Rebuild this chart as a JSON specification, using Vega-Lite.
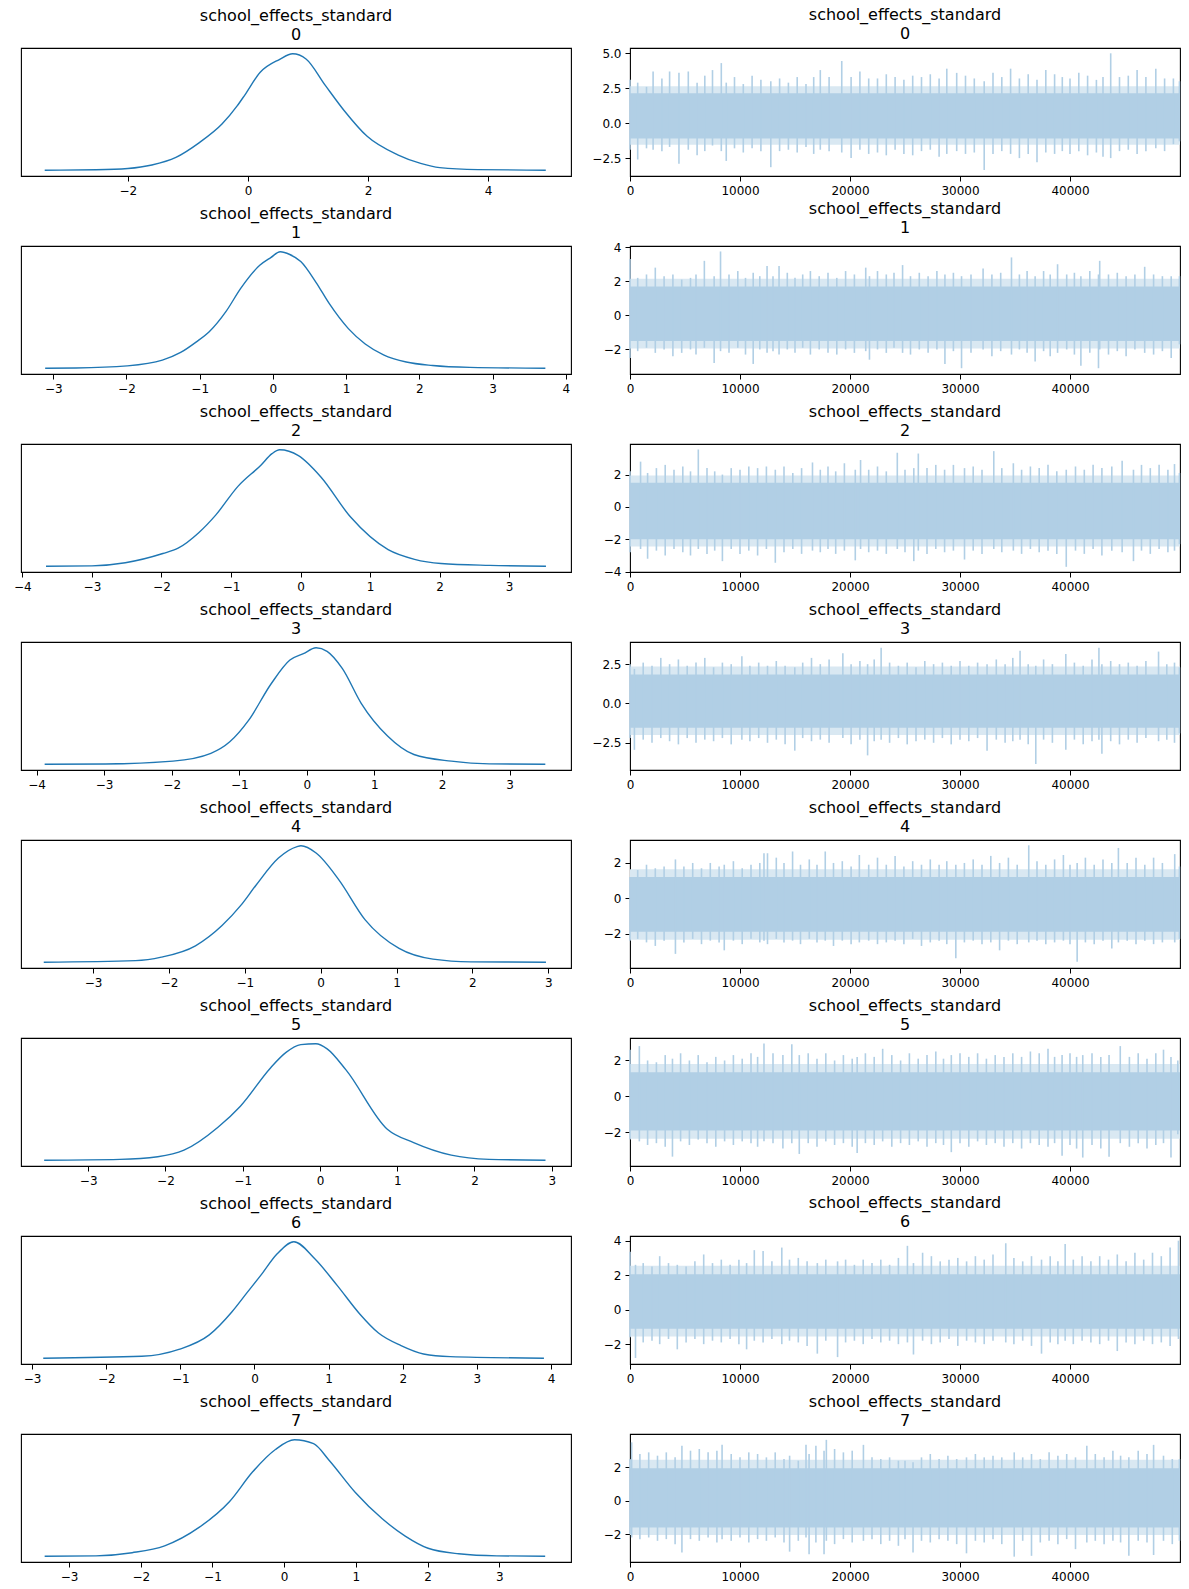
{
"$schema":"https://vega.github.io/schema/vega-lite/v6.json",
"padding":{"left":12,"top":6,"right":2,"bottom":2},
"background":"white",
"bounds":"flush",
"columns":2,
"spacing":{"row":70,"column":59},
"config":{
 "font":"DejaVu Sans",
 "view":{"stroke":"black","strokeWidth":1.1},
 "axis":{"grid":false,"domain":false,"tickColor":"black","tickSize":5,"tickWidth":1,"labelColor":"black","labelFontSize":12,"labelFont":"DejaVu Sans","labelPadding":4,"labelFlush":false,"labelOverlap":false},
 "title":{"fontSize":16,"fontWeight":"normal","color":"black","font":"DejaVu Sans","offset":5,"lineHeight":19,"anchor":"middle"}
},
"datasets":{
"kde":[
{"r":0,"x":-3.385,"d":0},{"r":0,"x":-2.53,"d":0.004},{"r":0,"x":-2.0,"d":0.015},{"r":0,"x":-1.6,"d":0.045},{"r":0,"x":-1.2,"d":0.11},{"r":0,"x":-0.815,"d":0.235},{"r":0,"x":-0.433,"d":0.396},{"r":0,"x":-0.18,"d":0.552},{"r":0,"x":-0.05,"d":0.648},{"r":0,"x":0.204,"d":0.841},{"r":0,"x":0.522,"d":0.951},{"r":0,"x":0.745,"d":1.0},{"r":0,"x":0.967,"d":0.956},{"r":0,"x":1.285,"d":0.731},{"r":0,"x":1.604,"d":0.511},{"r":0,"x":1.985,"d":0.291},{"r":0,"x":2.494,"d":0.132},{"r":0,"x":2.876,"d":0.058},{"r":0,"x":3.194,"d":0.022},{"r":0,"x":3.83,"d":0.005},{"r":0,"x":4.96,"d":0},
{"r":1,"x":-3.11,"d":0},{"r":1,"x":-2.69,"d":0.002},{"r":1,"x":-1.99,"d":0.02},{"r":1,"x":-1.51,"d":0.069},{"r":1,"x":-1.26,"d":0.135},{"r":1,"x":-1.05,"d":0.224},{"r":1,"x":-0.87,"d":0.313},{"r":1,"x":-0.64,"d":0.488},{"r":1,"x":-0.44,"d":0.686},{"r":1,"x":-0.18,"d":0.884},{"r":1,"x":-0.03,"d":0.95},{"r":1,"x":0.1,"d":1.0},{"r":1,"x":0.23,"d":0.977},{"r":1,"x":0.38,"d":0.917},{"r":1,"x":0.59,"d":0.736},{"r":1,"x":0.77,"d":0.554},{"r":1,"x":1.03,"d":0.34},{"r":1,"x":1.26,"d":0.208},{"r":1,"x":1.51,"d":0.115},{"r":1,"x":1.82,"d":0.053},{"r":1,"x":2.18,"d":0.023},{"r":1,"x":2.69,"d":0.007},{"r":1,"x":3.72,"d":0},
{"r":2,"x":-3.66,"d":0},{"r":2,"x":-3.0,"d":0.003},{"r":2,"x":-2.52,"d":0.03},{"r":2,"x":-1.98,"d":0.109},{"r":2,"x":-1.76,"d":0.155},{"r":2,"x":-1.46,"d":0.29},{"r":2,"x":-1.22,"d":0.439},{"r":2,"x":-0.9,"d":0.686},{"r":2,"x":-0.57,"d":0.868},{"r":2,"x":-0.41,"d":0.967},{"r":2,"x":-0.3,"d":1.0},{"r":2,"x":-0.03,"d":0.95},{"r":2,"x":0.29,"d":0.769},{"r":2,"x":0.72,"d":0.422},{"r":2,"x":1.26,"d":0.142},{"r":2,"x":1.64,"d":0.059},{"r":2,"x":2.02,"d":0.023},{"r":2,"x":2.72,"d":0.007},{"r":2,"x":3.53,"d":0},
{"r":3,"x":-3.88,"d":0},{"r":3,"x":-2.98,"d":0.002},{"r":3,"x":-1.98,"d":0.026},{"r":3,"x":-1.42,"d":0.093},{"r":3,"x":-1.14,"d":0.192},{"r":3,"x":-0.865,"d":0.374},{"r":3,"x":-0.53,"d":0.689},{"r":3,"x":-0.25,"d":0.895},{"r":3,"x":-0.05,"d":0.95},{"r":3,"x":0.137,"d":1.0},{"r":3,"x":0.3,"d":0.97},{"r":3,"x":0.527,"d":0.821},{"r":3,"x":0.805,"d":0.523},{"r":3,"x":1.195,"d":0.242},{"r":3,"x":1.585,"d":0.083},{"r":3,"x":2.14,"d":0.026},{"r":3,"x":2.7,"d":0.003},{"r":3,"x":3.53,"d":0},
{"r":4,"x":-3.65,"d":0},{"r":4,"x":-2.44,"d":0.013},{"r":4,"x":-2.1,"d":0.043},{"r":4,"x":-1.65,"d":0.141},{"r":4,"x":-1.3,"d":0.315},{"r":4,"x":-1.05,"d":0.49},{"r":4,"x":-0.855,"d":0.659},{"r":4,"x":-0.556,"d":0.895},{"r":4,"x":-0.31,"d":0.993},{"r":4,"x":-0.26,"d":1.0},{"r":4,"x":-0.06,"d":0.938},{"r":4,"x":0.24,"d":0.708},{"r":4,"x":0.587,"d":0.364},{"r":4,"x":1.034,"d":0.118},{"r":4,"x":1.48,"d":0.026},{"r":4,"x":1.978,"d":0.003},{"r":4,"x":2.97,"d":0},
{"r":5,"x":-3.57,"d":0},{"r":5,"x":-2.59,"d":0.007},{"r":5,"x":-2.1,"d":0.03},{"r":5,"x":-1.76,"d":0.086},{"r":5,"x":-1.32,"d":0.283},{"r":5,"x":-1.03,"d":0.464},{"r":5,"x":-0.64,"d":0.793},{"r":5,"x":-0.443,"d":0.924},{"r":5,"x":-0.248,"d":0.993},{"r":5,"x":-0.053,"d":1.0},{"r":5,"x":0.093,"d":0.957},{"r":5,"x":0.337,"d":0.776},{"r":5,"x":0.872,"d":0.266},{"r":5,"x":1.213,"d":0.151},{"r":5,"x":1.7,"d":0.043},{"r":5,"x":2.19,"d":0.007},{"r":5,"x":2.92,"d":0},
{"r":6,"x":-2.85,"d":0},{"r":6,"x":-1.52,"d":0.016},{"r":6,"x":-1.02,"d":0.075},{"r":6,"x":-0.61,"d":0.2},{"r":6,"x":-0.306,"d":0.397},{"r":6,"x":-0.103,"d":0.561},{"r":6,"x":0.1,"d":0.725},{"r":6,"x":0.303,"d":0.895},{"r":6,"x":0.531,"d":1.0},{"r":6,"x":0.81,"d":0.856},{"r":6,"x":1.115,"d":0.626},{"r":6,"x":1.42,"d":0.38},{"r":6,"x":1.673,"d":0.216},{"r":6,"x":1.977,"d":0.108},{"r":6,"x":2.28,"d":0.036},{"r":6,"x":2.64,"d":0.013},{"r":6,"x":3.905,"d":0},
{"r":7,"x":-3.34,"d":0},{"r":7,"x":-2.625,"d":0.003},{"r":7,"x":-2.12,"d":0.03},{"r":7,"x":-1.667,"d":0.089},{"r":7,"x":-1.187,"d":0.247},{"r":7,"x":-0.761,"d":0.47},{"r":7,"x":-0.442,"d":0.723},{"r":7,"x":-0.122,"d":0.917},{"r":7,"x":0.144,"d":1.0},{"r":7,"x":0.41,"d":0.967},{"r":7,"x":0.623,"d":0.827},{"r":7,"x":0.996,"d":0.545},{"r":7,"x":1.368,"d":0.321},{"r":7,"x":1.688,"d":0.173},{"r":7,"x":2.007,"d":0.068},{"r":7,"x":2.433,"d":0.021},{"r":7,"x":2.966,"d":0.003},{"r":7,"x":3.64,"d":0}
],
"core":[
{"r":0,"a":0,"b":49999,"lo":-1.1,"hi":2.15,"flo":-1.55,"fhi":2.65},
{"r":1,"a":0,"b":49999,"lo":-1.5,"hi":1.7,"flo":-1.95,"fhi":2.15},
{"r":2,"a":0,"b":49999,"lo":-2.0,"hi":1.5,"flo":-2.45,"fhi":1.95},
{"r":3,"a":0,"b":49999,"lo":-1.55,"hi":1.85,"flo":-2.0,"fhi":2.35},
{"r":4,"a":0,"b":49999,"lo":-1.9,"hi":1.2,"flo":-2.35,"fhi":1.65},
{"r":5,"a":0,"b":49999,"lo":-1.9,"hi":1.35,"flo":-2.35,"fhi":1.8},
{"r":6,"a":0,"b":49999,"lo":-1.1,"hi":2.05,"flo":-1.55,"fhi":2.55},
{"r":7,"a":0,"b":49999,"lo":-1.6,"hi":1.95,"flo":-2.05,"fhi":2.45}
],
"trace":[
{"r":0,"i":0,"hi":3.1,"lo":-1.9},{"r":0,"i":700,"hi":2.9,"lo":-2.6},{"r":0,"i":1500,"hi":2.6,"lo":-1.8},{"r":0,"i":2100,"hi":3.7,"lo":-1.9},{"r":0,"i":2900,"hi":3.2,"lo":-2.0},{"r":0,"i":3600,"hi":3.7,"lo":-1.7},{"r":0,"i":4450,"hi":3.6,"lo":-2.9},{"r":0,"i":5300,"hi":3.7,"lo":-1.9},{"r":0,"i":6100,"hi":2.9,"lo":-2.3},{"r":0,"i":6800,"hi":3.4,"lo":-2.0},{"r":0,"i":7500,"hi":3.8,"lo":-1.6},{"r":0,"i":8300,"hi":4.3,"lo":-2.0},{"r":0,"i":8750,"hi":2.9,"lo":-2.7},{"r":0,"i":9500,"hi":3.3,"lo":-1.8},{"r":0,"i":10300,"hi":2.8,"lo":-2.1},{"r":0,"i":11100,"hi":3.4,"lo":-1.8},{"r":0,"i":11900,"hi":3.1,"lo":-2.0},{"r":0,"i":12800,"hi":3.0,"lo":-3.15},{"r":0,"i":13600,"hi":3.2,"lo":-2.0},{"r":0,"i":14400,"hi":2.9,"lo":-1.9},{"r":0,"i":15200,"hi":3.3,"lo":-2.1},{"r":0,"i":16000,"hi":2.8,"lo":-1.7},{"r":0,"i":16700,"hi":3.3,"lo":-2.2},{"r":0,"i":17300,"hi":3.8,"lo":-1.9},{"r":0,"i":18100,"hi":3.3,"lo":-2.0},{"r":0,"i":19250,"hi":4.45,"lo":-2.1},{"r":0,"i":20100,"hi":3.3,"lo":-2.5},{"r":0,"i":20900,"hi":3.7,"lo":-1.9},{"r":0,"i":21700,"hi":3.2,"lo":-2.2},{"r":0,"i":22500,"hi":3.2,"lo":-2.1},{"r":0,"i":23300,"hi":3.5,"lo":-2.3},{"r":0,"i":24100,"hi":3.3,"lo":-1.9},{"r":0,"i":24900,"hi":3.1,"lo":-2.2},{"r":0,"i":25700,"hi":3.4,"lo":-2.3},{"r":0,"i":26500,"hi":3.3,"lo":-2.0},{"r":0,"i":27300,"hi":3.5,"lo":-1.9},{"r":0,"i":28100,"hi":3.2,"lo":-2.4},{"r":0,"i":28800,"hi":3.9,"lo":-2.2},{"r":0,"i":29700,"hi":3.6,"lo":-2.0},{"r":0,"i":30500,"hi":3.4,"lo":-2.2},{"r":0,"i":31300,"hi":3.2,"lo":-2.1},{"r":0,"i":32200,"hi":3.0,"lo":-3.35},{"r":0,"i":33000,"hi":3.6,"lo":-2.2},{"r":0,"i":33800,"hi":3.3,"lo":-2.0},{"r":0,"i":34600,"hi":3.9,"lo":-2.2},{"r":0,"i":35400,"hi":3.2,"lo":-2.5},{"r":0,"i":36200,"hi":3.5,"lo":-2.2},{"r":0,"i":37000,"hi":3.1,"lo":-2.8},{"r":0,"i":37800,"hi":3.8,"lo":-2.1},{"r":0,"i":38600,"hi":3.5,"lo":-2.2},{"r":0,"i":39300,"hi":3.3,"lo":-2.0},{"r":0,"i":40000,"hi":3.2,"lo":-2.2},{"r":0,"i":40800,"hi":3.6,"lo":-2.0},{"r":0,"i":41600,"hi":3.4,"lo":-2.3},{"r":0,"i":42400,"hi":3.1,"lo":-2.1},{"r":0,"i":43000,"hi":3.3,"lo":-2.4},{"r":0,"i":43700,"hi":5.0,"lo":-2.5},{"r":0,"i":44500,"hi":3.3,"lo":-2.0},{"r":0,"i":45300,"hi":3.4,"lo":-1.9},{"r":0,"i":46100,"hi":3.8,"lo":-2.2},{"r":0,"i":46900,"hi":3.3,"lo":-2.0},{"r":0,"i":47800,"hi":3.9,"lo":-1.8},{"r":0,"i":48600,"hi":3.2,"lo":-2.0},{"r":0,"i":49400,"hi":3.2,"lo":-1.5},{"r":0,"i":49950,"hi":3.0,"lo":-1.3},
{"r":1,"i":0,"hi":3.3,"lo":-2.5},{"r":1,"i":700,"hi":2.2,"lo":-2.1},{"r":1,"i":1500,"hi":2.4,"lo":-1.9},{"r":1,"i":2300,"hi":2.8,"lo":-2.2},{"r":1,"i":3100,"hi":2.3,"lo":-2.0},{"r":1,"i":3900,"hi":2.4,"lo":-2.4},{"r":1,"i":4700,"hi":2.1,"lo":-2.2},{"r":1,"i":5500,"hi":2.2,"lo":-2.0},{"r":1,"i":6000,"hi":2.4,"lo":-2.3},{"r":1,"i":6760,"hi":3.2,"lo":-1.9},{"r":1,"i":7650,"hi":2.3,"lo":-2.8},{"r":1,"i":8230,"hi":3.75,"lo":-2.1},{"r":1,"i":9000,"hi":2.4,"lo":-2.2},{"r":1,"i":9800,"hi":2.6,"lo":-1.9},{"r":1,"i":10500,"hi":2.2,"lo":-2.3},{"r":1,"i":11200,"hi":2.5,"lo":-2.85},{"r":1,"i":11800,"hi":2.3,"lo":-2.0},{"r":1,"i":12460,"hi":2.9,"lo":-2.2},{"r":1,"i":13000,"hi":2.3,"lo":-2.1},{"r":1,"i":13550,"hi":2.9,"lo":-2.3},{"r":1,"i":14300,"hi":2.5,"lo":-2.0},{"r":1,"i":15000,"hi":2.2,"lo":-2.2},{"r":1,"i":15700,"hi":2.4,"lo":-1.9},{"r":1,"i":16400,"hi":2.6,"lo":-2.3},{"r":1,"i":17200,"hi":2.3,"lo":-2.0},{"r":1,"i":18000,"hi":2.5,"lo":-2.2},{"r":1,"i":18800,"hi":2.2,"lo":-2.3},{"r":1,"i":19600,"hi":2.6,"lo":-2.0},{"r":1,"i":20400,"hi":2.4,"lo":-2.2},{"r":1,"i":21430,"hi":2.8,"lo":-2.1},{"r":1,"i":21770,"hi":2.3,"lo":-2.6},{"r":1,"i":22500,"hi":2.6,"lo":-2.0},{"r":1,"i":23300,"hi":2.4,"lo":-2.2},{"r":1,"i":24000,"hi":2.5,"lo":-1.9},{"r":1,"i":24780,"hi":2.95,"lo":-2.2},{"r":1,"i":25500,"hi":2.3,"lo":-2.3},{"r":1,"i":26300,"hi":2.5,"lo":-2.0},{"r":1,"i":27100,"hi":2.3,"lo":-2.2},{"r":1,"i":27900,"hi":2.6,"lo":-2.0},{"r":1,"i":28630,"hi":2.4,"lo":-2.85},{"r":1,"i":29400,"hi":2.5,"lo":-2.1},{"r":1,"i":30140,"hi":2.3,"lo":-3.1},{"r":1,"i":31000,"hi":2.4,"lo":-2.2},{"r":1,"i":32100,"hi":2.75,"lo":-2.0},{"r":1,"i":32900,"hi":2.4,"lo":-2.4},{"r":1,"i":33700,"hi":2.5,"lo":-2.1},{"r":1,"i":34680,"hi":3.4,"lo":-2.3},{"r":1,"i":35400,"hi":2.4,"lo":-2.0},{"r":1,"i":36100,"hi":2.6,"lo":-2.2},{"r":1,"i":36830,"hi":2.3,"lo":-2.7},{"r":1,"i":37600,"hi":2.6,"lo":-2.1},{"r":1,"i":38200,"hi":2.4,"lo":-2.4},{"r":1,"i":38870,"hi":3.0,"lo":-2.2},{"r":1,"i":39700,"hi":2.4,"lo":-2.0},{"r":1,"i":40400,"hi":2.5,"lo":-2.3},{"r":1,"i":40990,"hi":2.3,"lo":-2.95},{"r":1,"i":41800,"hi":2.6,"lo":-2.2},{"r":1,"i":42590,"hi":2.4,"lo":-3.1},{"r":1,"i":42700,"hi":3.2,"lo":-2.0},{"r":1,"i":43500,"hi":2.4,"lo":-2.3},{"r":1,"i":44300,"hi":2.5,"lo":-2.1},{"r":1,"i":45100,"hi":2.3,"lo":-2.4},{"r":1,"i":45900,"hi":2.4,"lo":-2.0},{"r":1,"i":46790,"hi":2.85,"lo":-2.2},{"r":1,"i":47600,"hi":2.4,"lo":-2.3},{"r":1,"i":48400,"hi":2.3,"lo":-2.1},{"r":1,"i":49200,"hi":2.3,"lo":-2.5},{"r":1,"i":49950,"hi":2.3,"lo":-1.7},
{"r":2,"i":0,"hi":2.2,"lo":-2.8},{"r":2,"i":960,"hi":2.8,"lo":-2.6},{"r":2,"i":1600,"hi":2.1,"lo":-3.2},{"r":2,"i":2400,"hi":2.4,"lo":-2.7},{"r":2,"i":3200,"hi":2.6,"lo":-3.0},{"r":2,"i":4000,"hi":2.3,"lo":-2.6},{"r":2,"i":4800,"hi":2.5,"lo":-2.8},{"r":2,"i":5500,"hi":2.2,"lo":-3.0},{"r":2,"i":6210,"hi":3.55,"lo":-2.6},{"r":2,"i":7000,"hi":2.4,"lo":-2.9},{"r":2,"i":7700,"hi":2.2,"lo":-2.7},{"r":2,"i":8400,"hi":2.0,"lo":-3.35},{"r":2,"i":9200,"hi":2.4,"lo":-2.6},{"r":2,"i":10000,"hi":2.3,"lo":-2.9},{"r":2,"i":10800,"hi":2.5,"lo":-2.7},{"r":2,"i":11600,"hi":2.4,"lo":-3.0},{"r":2,"i":12400,"hi":2.5,"lo":-2.6},{"r":2,"i":13210,"hi":2.3,"lo":-3.45},{"r":2,"i":14000,"hi":2.5,"lo":-2.8},{"r":2,"i":14800,"hi":2.1,"lo":-2.6},{"r":2,"i":15600,"hi":2.4,"lo":-2.9},{"r":2,"i":16590,"hi":2.75,"lo":-2.7},{"r":2,"i":17300,"hi":2.3,"lo":-2.8},{"r":2,"i":18000,"hi":2.5,"lo":-2.6},{"r":2,"i":18700,"hi":2.2,"lo":-2.9},{"r":2,"i":19490,"hi":2.7,"lo":-2.7},{"r":2,"i":20480,"hi":2.3,"lo":-3.3},{"r":2,"i":20960,"hi":2.9,"lo":-2.6},{"r":2,"i":21700,"hi":2.3,"lo":-2.8},{"r":2,"i":22500,"hi":2.5,"lo":-2.7},{"r":2,"i":23300,"hi":2.2,"lo":-2.9},{"r":2,"i":24300,"hi":3.35,"lo":-2.6},{"r":2,"i":25000,"hi":2.3,"lo":-2.8},{"r":2,"i":25800,"hi":2.4,"lo":-3.35},{"r":2,"i":26210,"hi":3.3,"lo":-2.7},{"r":2,"i":27000,"hi":2.4,"lo":-2.9},{"r":2,"i":27800,"hi":2.6,"lo":-2.6},{"r":2,"i":28600,"hi":2.3,"lo":-2.8},{"r":2,"i":29400,"hi":2.6,"lo":-2.7},{"r":2,"i":30410,"hi":2.4,"lo":-3.25},{"r":2,"i":31200,"hi":2.5,"lo":-2.7},{"r":2,"i":32000,"hi":2.3,"lo":-2.9},{"r":2,"i":33070,"hi":3.45,"lo":-2.6},{"r":2,"i":33800,"hi":2.4,"lo":-2.8},{"r":2,"i":34850,"hi":2.7,"lo":-2.7},{"r":2,"i":35600,"hi":2.3,"lo":-2.9},{"r":2,"i":36400,"hi":2.5,"lo":-2.6},{"r":2,"i":37200,"hi":2.4,"lo":-2.8},{"r":2,"i":38000,"hi":2.6,"lo":-2.7},{"r":2,"i":38800,"hi":2.2,"lo":-2.9},{"r":2,"i":39660,"hi":2.3,"lo":-3.7},{"r":2,"i":40500,"hi":2.5,"lo":-2.7},{"r":2,"i":41300,"hi":2.3,"lo":-2.9},{"r":2,"i":42100,"hi":2.6,"lo":-2.6},{"r":2,"i":42900,"hi":2.4,"lo":-3.0},{"r":2,"i":43800,"hi":2.5,"lo":-2.7},{"r":2,"i":44740,"hi":2.85,"lo":-2.8},{"r":2,"i":45770,"hi":2.3,"lo":-3.35},{"r":2,"i":46500,"hi":2.6,"lo":-2.7},{"r":2,"i":47300,"hi":2.4,"lo":-2.9},{"r":2,"i":48100,"hi":2.6,"lo":-2.6},{"r":2,"i":48900,"hi":2.3,"lo":-2.8},{"r":2,"i":49500,"hi":2.65,"lo":-2.7},{"r":2,"i":49950,"hi":2.1,"lo":-2.3},
{"r":3,"i":0,"hi":2.5,"lo":-2.2},{"r":3,"i":400,"hi":2.2,"lo":-2.95},{"r":3,"i":1200,"hi":2.6,"lo":-2.3},{"r":3,"i":2000,"hi":2.4,"lo":-2.5},{"r":3,"i":2800,"hi":2.9,"lo":-2.2},{"r":3,"i":3600,"hi":2.5,"lo":-2.4},{"r":3,"i":4400,"hi":2.8,"lo":-2.6},{"r":3,"i":5200,"hi":2.4,"lo":-2.2},{"r":3,"i":6000,"hi":2.6,"lo":-2.5},{"r":3,"i":6800,"hi":2.9,"lo":-2.3},{"r":3,"i":7600,"hi":2.3,"lo":-2.4},{"r":3,"i":8400,"hi":2.6,"lo":-2.2},{"r":3,"i":9200,"hi":2.5,"lo":-2.6},{"r":3,"i":10170,"hi":3.0,"lo":-2.3},{"r":3,"i":10900,"hi":2.4,"lo":-2.4},{"r":3,"i":11700,"hi":2.6,"lo":-2.2},{"r":3,"i":12500,"hi":2.4,"lo":-2.5},{"r":3,"i":13300,"hi":2.7,"lo":-2.3},{"r":3,"i":14100,"hi":2.4,"lo":-2.6},{"r":3,"i":14980,"hi":2.3,"lo":-3.0},{"r":3,"i":15700,"hi":2.6,"lo":-2.2},{"r":3,"i":16500,"hi":2.9,"lo":-2.4},{"r":3,"i":17300,"hi":2.5,"lo":-2.3},{"r":3,"i":18100,"hi":2.8,"lo":-2.5},{"r":3,"i":19350,"hi":3.2,"lo":-2.2},{"r":3,"i":20100,"hi":2.5,"lo":-2.6},{"r":3,"i":20900,"hi":2.7,"lo":-2.3},{"r":3,"i":21600,"hi":2.5,"lo":-3.3},{"r":3,"i":22200,"hi":2.8,"lo":-2.4},{"r":3,"i":22830,"hi":3.55,"lo":-2.3},{"r":3,"i":23600,"hi":2.6,"lo":-2.5},{"r":3,"i":24400,"hi":2.4,"lo":-2.2},{"r":3,"i":25200,"hi":2.6,"lo":-2.6},{"r":3,"i":26000,"hi":2.3,"lo":-2.4},{"r":3,"i":26800,"hi":2.7,"lo":-2.3},{"r":3,"i":27600,"hi":2.5,"lo":-2.5},{"r":3,"i":28400,"hi":2.6,"lo":-2.2},{"r":3,"i":29200,"hi":2.4,"lo":-2.6},{"r":3,"i":30000,"hi":2.7,"lo":-2.3},{"r":3,"i":30800,"hi":2.4,"lo":-2.4},{"r":3,"i":31600,"hi":2.6,"lo":-2.2},{"r":3,"i":32460,"hi":2.5,"lo":-3.0},{"r":3,"i":33300,"hi":2.8,"lo":-2.3},{"r":3,"i":34100,"hi":2.5,"lo":-2.5},{"r":3,"i":34800,"hi":2.9,"lo":-2.4},{"r":3,"i":35460,"hi":3.35,"lo":-2.3},{"r":3,"i":36200,"hi":2.5,"lo":-2.6},{"r":3,"i":36890,"hi":2.4,"lo":-3.85},{"r":3,"i":37600,"hi":2.8,"lo":-2.3},{"r":3,"i":38400,"hi":2.5,"lo":-2.5},{"r":3,"i":39620,"hi":3.15,"lo":-2.95},{"r":3,"i":40400,"hi":2.6,"lo":-2.3},{"r":3,"i":41200,"hi":2.4,"lo":-2.6},{"r":3,"i":42000,"hi":2.8,"lo":-2.4},{"r":3,"i":42630,"hi":3.55,"lo":-2.3},{"r":3,"i":42900,"hi":2.5,"lo":-3.2},{"r":3,"i":43700,"hi":2.7,"lo":-2.4},{"r":3,"i":44500,"hi":2.5,"lo":-2.6},{"r":3,"i":45300,"hi":2.6,"lo":-2.3},{"r":3,"i":46100,"hi":2.4,"lo":-2.5},{"r":3,"i":46900,"hi":2.7,"lo":-2.2},{"r":3,"i":48050,"hi":3.3,"lo":-2.4},{"r":3,"i":48800,"hi":2.5,"lo":-2.3},{"r":3,"i":49500,"hi":2.6,"lo":-2.5},{"r":3,"i":49950,"hi":2.3,"lo":-1.9},
{"r":4,"i":0,"hi":1.2,"lo":-2.4},{"r":4,"i":700,"hi":1.6,"lo":-2.3},{"r":4,"i":1500,"hi":1.9,"lo":-2.5},{"r":4,"i":2300,"hi":1.7,"lo":-2.7},{"r":4,"i":3100,"hi":1.8,"lo":-2.4},{"r":4,"i":4130,"hi":2.2,"lo":-3.15},{"r":4,"i":4900,"hi":1.8,"lo":-2.5},{"r":4,"i":5700,"hi":2.0,"lo":-2.3},{"r":4,"i":6500,"hi":1.7,"lo":-2.6},{"r":4,"i":7300,"hi":2.0,"lo":-2.4},{"r":4,"i":8100,"hi":1.8,"lo":-2.5},{"r":4,"i":8570,"hi":1.9,"lo":-2.95},{"r":4,"i":9400,"hi":2.1,"lo":-2.4},{"r":4,"i":10200,"hi":1.7,"lo":-2.6},{"r":4,"i":11000,"hi":1.9,"lo":-2.3},{"r":4,"i":11800,"hi":2.0,"lo":-2.5},{"r":4,"i":12180,"hi":2.55,"lo":-2.4},{"r":4,"i":12500,"hi":2.55,"lo":-2.6},{"r":4,"i":13300,"hi":2.3,"lo":-2.3},{"r":4,"i":14000,"hi":2.0,"lo":-2.5},{"r":4,"i":14780,"hi":2.65,"lo":-2.4},{"r":4,"i":15500,"hi":1.9,"lo":-2.6},{"r":4,"i":16300,"hi":2.2,"lo":-2.3},{"r":4,"i":17000,"hi":1.9,"lo":-2.5},{"r":4,"i":17750,"hi":2.65,"lo":-2.4},{"r":4,"i":18500,"hi":2.0,"lo":-2.7},{"r":4,"i":19300,"hi":2.1,"lo":-2.4},{"r":4,"i":20100,"hi":1.8,"lo":-2.6},{"r":4,"i":20850,"hi":2.45,"lo":-2.5},{"r":4,"i":21700,"hi":1.9,"lo":-2.4},{"r":4,"i":22500,"hi":2.3,"lo":-2.6},{"r":4,"i":23300,"hi":1.9,"lo":-2.5},{"r":4,"i":24100,"hi":2.4,"lo":-2.4},{"r":4,"i":24900,"hi":1.8,"lo":-2.6},{"r":4,"i":25700,"hi":2.1,"lo":-2.3},{"r":4,"i":26500,"hi":1.9,"lo":-2.7},{"r":4,"i":27300,"hi":2.2,"lo":-2.5},{"r":4,"i":28100,"hi":1.9,"lo":-2.4},{"r":4,"i":28800,"hi":2.1,"lo":-2.6},{"r":4,"i":29620,"hi":1.9,"lo":-3.4},{"r":4,"i":30400,"hi":2.0,"lo":-2.5},{"r":4,"i":31200,"hi":2.2,"lo":-2.4},{"r":4,"i":32000,"hi":1.9,"lo":-2.6},{"r":4,"i":32800,"hi":2.4,"lo":-2.5},{"r":4,"i":33600,"hi":2.0,"lo":-2.95},{"r":4,"i":34400,"hi":2.3,"lo":-2.4},{"r":4,"i":35200,"hi":1.9,"lo":-2.6},{"r":4,"i":36250,"hi":3.0,"lo":-2.5},{"r":4,"i":37000,"hi":2.1,"lo":-2.4},{"r":4,"i":37800,"hi":1.9,"lo":-2.6},{"r":4,"i":38600,"hi":2.2,"lo":-2.5},{"r":4,"i":39400,"hi":2.45,"lo":-2.4},{"r":4,"i":40000,"hi":1.9,"lo":-2.6},{"r":4,"i":40650,"hi":2.0,"lo":-3.6},{"r":4,"i":41400,"hi":2.3,"lo":-2.5},{"r":4,"i":42200,"hi":1.9,"lo":-2.6},{"r":4,"i":43000,"hi":2.2,"lo":-2.4},{"r":4,"i":43800,"hi":2.0,"lo":-2.85},{"r":4,"i":44400,"hi":2.85,"lo":-2.5},{"r":4,"i":45200,"hi":2.0,"lo":-2.4},{"r":4,"i":46000,"hi":2.3,"lo":-2.6},{"r":4,"i":46800,"hi":1.9,"lo":-2.4},{"r":4,"i":47600,"hi":2.3,"lo":-2.6},{"r":4,"i":48400,"hi":2.0,"lo":-2.5},{"r":4,"i":49520,"hi":2.5,"lo":-2.5},{"r":4,"i":49950,"hi":1.8,"lo":-2.3},
{"r":5,"i":0,"hi":2.6,"lo":-2.4},{"r":5,"i":850,"hi":2.8,"lo":-2.5},{"r":5,"i":1600,"hi":2.0,"lo":-2.7},{"r":5,"i":2400,"hi":1.9,"lo":-2.6},{"r":5,"i":3200,"hi":2.3,"lo":-2.8},{"r":5,"i":3860,"hi":2.1,"lo":-3.35},{"r":5,"i":4600,"hi":2.4,"lo":-2.5},{"r":5,"i":5400,"hi":2.0,"lo":-2.7},{"r":5,"i":6200,"hi":2.3,"lo":-2.4},{"r":5,"i":7000,"hi":1.9,"lo":-2.6},{"r":5,"i":7800,"hi":2.2,"lo":-2.8},{"r":5,"i":8600,"hi":2.0,"lo":-2.5},{"r":5,"i":9400,"hi":2.3,"lo":-2.7},{"r":5,"i":10200,"hi":2.1,"lo":-2.5},{"r":5,"i":11000,"hi":2.4,"lo":-2.6},{"r":5,"i":11600,"hi":2.2,"lo":-2.8},{"r":5,"i":12180,"hi":2.95,"lo":-2.5},{"r":5,"i":13000,"hi":2.4,"lo":-2.6},{"r":5,"i":13900,"hi":2.3,"lo":-2.9},{"r":5,"i":14710,"hi":2.9,"lo":-2.6},{"r":5,"i":15390,"hi":2.3,"lo":-3.2},{"r":5,"i":16200,"hi":2.4,"lo":-2.6},{"r":5,"i":17000,"hi":2.1,"lo":-2.8},{"r":5,"i":17800,"hi":2.4,"lo":-2.5},{"r":5,"i":18600,"hi":2.0,"lo":-2.7},{"r":5,"i":19400,"hi":2.3,"lo":-2.6},{"r":5,"i":20200,"hi":2.1,"lo":-2.8},{"r":5,"i":20650,"hi":2.2,"lo":-3.15},{"r":5,"i":21400,"hi":2.4,"lo":-2.6},{"r":5,"i":22200,"hi":2.2,"lo":-2.7},{"r":5,"i":22970,"hi":2.65,"lo":-2.5},{"r":5,"i":23800,"hi":2.3,"lo":-2.8},{"r":5,"i":24600,"hi":2.0,"lo":-2.6},{"r":5,"i":25400,"hi":2.4,"lo":-2.7},{"r":5,"i":26200,"hi":2.1,"lo":-2.5},{"r":5,"i":27000,"hi":2.3,"lo":-2.8},{"r":5,"i":27800,"hi":2.5,"lo":-2.6},{"r":5,"i":28500,"hi":2.1,"lo":-2.7},{"r":5,"i":29210,"hi":2.3,"lo":-3.1},{"r":5,"i":30000,"hi":2.4,"lo":-2.6},{"r":5,"i":30800,"hi":2.2,"lo":-2.8},{"r":5,"i":31600,"hi":2.4,"lo":-2.5},{"r":5,"i":32400,"hi":2.1,"lo":-2.7},{"r":5,"i":33200,"hi":2.3,"lo":-2.6},{"r":5,"i":34000,"hi":2.2,"lo":-2.8},{"r":5,"i":34800,"hi":2.4,"lo":-2.6},{"r":5,"i":35600,"hi":2.2,"lo":-2.9},{"r":5,"i":36400,"hi":2.5,"lo":-2.6},{"r":5,"i":37200,"hi":2.4,"lo":-2.7},{"r":5,"i":38000,"hi":2.65,"lo":-2.8},{"r":5,"i":38600,"hi":2.2,"lo":-2.6},{"r":5,"i":39280,"hi":2.3,"lo":-3.3},{"r":5,"i":40000,"hi":2.4,"lo":-2.7},{"r":5,"i":40600,"hi":2.2,"lo":-2.9},{"r":5,"i":41160,"hi":2.3,"lo":-3.4},{"r":5,"i":42000,"hi":2.4,"lo":-2.7},{"r":5,"i":42800,"hi":2.2,"lo":-2.9},{"r":5,"i":43550,"hi":2.3,"lo":-3.35},{"r":5,"i":44570,"hi":2.8,"lo":-2.6},{"r":5,"i":45400,"hi":2.2,"lo":-2.8},{"r":5,"i":46200,"hi":2.4,"lo":-2.6},{"r":5,"i":47000,"hi":2.1,"lo":-2.9},{"r":5,"i":47800,"hi":2.4,"lo":-2.7},{"r":5,"i":48500,"hi":2.6,"lo":-2.6},{"r":5,"i":49180,"hi":2.2,"lo":-3.4},{"r":5,"i":49800,"hi":2.0,"lo":-2.1},
{"r":6,"i":0,"hi":3.35,"lo":-1.6},{"r":6,"i":500,"hi":2.6,"lo":-2.8},{"r":6,"i":1200,"hi":2.7,"lo":-1.9},{"r":6,"i":2000,"hi":2.5,"lo":-1.8},{"r":6,"i":2700,"hi":3.1,"lo":-2.0},{"r":6,"i":3500,"hi":2.7,"lo":-1.7},{"r":6,"i":4300,"hi":2.6,"lo":-2.3},{"r":6,"i":5100,"hi":2.5,"lo":-1.9},{"r":6,"i":5900,"hi":2.8,"lo":-1.7},{"r":6,"i":6700,"hi":3.2,"lo":-2.0},{"r":6,"i":7500,"hi":2.7,"lo":-1.8},{"r":6,"i":8300,"hi":2.9,"lo":-1.9},{"r":6,"i":9100,"hi":2.6,"lo":-1.7},{"r":6,"i":9900,"hi":2.9,"lo":-2.0},{"r":6,"i":10600,"hi":2.7,"lo":-2.3},{"r":6,"i":11300,"hi":3.45,"lo":-1.8},{"r":6,"i":12100,"hi":3.4,"lo":-1.9},{"r":6,"i":12900,"hi":2.8,"lo":-1.7},{"r":6,"i":13800,"hi":3.6,"lo":-2.0},{"r":6,"i":14500,"hi":2.9,"lo":-1.8},{"r":6,"i":15300,"hi":3.0,"lo":-1.9},{"r":6,"i":16100,"hi":2.8,"lo":-2.1},{"r":6,"i":17030,"hi":2.7,"lo":-2.55},{"r":6,"i":17800,"hi":2.9,"lo":-1.8},{"r":6,"i":18870,"hi":2.8,"lo":-2.75},{"r":6,"i":19600,"hi":2.9,"lo":-1.9},{"r":6,"i":20400,"hi":2.6,"lo":-1.8},{"r":6,"i":21200,"hi":2.9,"lo":-2.0},{"r":6,"i":22000,"hi":2.7,"lo":-1.7},{"r":6,"i":22800,"hi":2.9,"lo":-1.9},{"r":6,"i":23600,"hi":2.6,"lo":-1.8},{"r":6,"i":24400,"hi":3.0,"lo":-2.0},{"r":6,"i":25220,"hi":3.7,"lo":-1.9},{"r":6,"i":25770,"hi":2.7,"lo":-2.6},{"r":6,"i":26600,"hi":3.3,"lo":-1.8},{"r":6,"i":27400,"hi":3.1,"lo":-2.0},{"r":6,"i":28200,"hi":2.8,"lo":-1.9},{"r":6,"i":29000,"hi":2.9,"lo":-1.7},{"r":6,"i":29800,"hi":3.0,"lo":-2.1},{"r":6,"i":30600,"hi":2.8,"lo":-1.8},{"r":6,"i":31400,"hi":3.1,"lo":-1.9},{"r":6,"i":32200,"hi":2.9,"lo":-2.0},{"r":6,"i":33000,"hi":3.2,"lo":-1.8},{"r":6,"i":34160,"hi":3.85,"lo":-1.9},{"r":6,"i":34900,"hi":3.0,"lo":-2.0},{"r":6,"i":35700,"hi":2.8,"lo":-1.8},{"r":6,"i":36500,"hi":3.1,"lo":-2.1},{"r":6,"i":37410,"hi":2.9,"lo":-2.55},{"r":6,"i":38200,"hi":3.1,"lo":-1.9},{"r":6,"i":38900,"hi":2.8,"lo":-2.0},{"r":6,"i":39560,"hi":3.8,"lo":-1.8},{"r":6,"i":40300,"hi":2.9,"lo":-2.0},{"r":6,"i":41100,"hi":3.1,"lo":-1.8},{"r":6,"i":41900,"hi":2.8,"lo":-1.9},{"r":6,"i":42700,"hi":3.1,"lo":-2.0},{"r":6,"i":43500,"hi":2.9,"lo":-1.8},{"r":6,"i":44300,"hi":3.2,"lo":-2.4},{"r":6,"i":45100,"hi":2.8,"lo":-1.9},{"r":6,"i":45900,"hi":3.3,"lo":-2.0},{"r":6,"i":46700,"hi":2.9,"lo":-1.8},{"r":6,"i":47500,"hi":3.3,"lo":-2.0},{"r":6,"i":48300,"hi":3.1,"lo":-1.9},{"r":6,"i":49100,"hi":3.6,"lo":-2.1},{"r":6,"i":49860,"hi":4.0,"lo":-1.7},
{"r":7,"i":0,"hi":2.5,"lo":-2.0},{"r":7,"i":150,"hi":3.5,"lo":-2.2},{"r":7,"i":900,"hi":2.8,"lo":-2.3},{"r":7,"i":1700,"hi":2.9,"lo":-2.2},{"r":7,"i":2500,"hi":2.7,"lo":-2.4},{"r":7,"i":3300,"hi":2.9,"lo":-2.3},{"r":7,"i":4100,"hi":2.6,"lo":-2.6},{"r":7,"i":4720,"hi":3.3,"lo":-3.1},{"r":7,"i":5500,"hi":3.0,"lo":-2.3},{"r":7,"i":6300,"hi":3.1,"lo":-2.4},{"r":7,"i":7100,"hi":2.9,"lo":-2.2},{"r":7,"i":7900,"hi":3.0,"lo":-2.5},{"r":7,"i":8370,"hi":3.35,"lo":-2.3},{"r":7,"i":9200,"hi":2.8,"lo":-2.4},{"r":7,"i":10000,"hi":2.6,"lo":-2.2},{"r":7,"i":10800,"hi":2.9,"lo":-2.5},{"r":7,"i":11600,"hi":2.8,"lo":-2.3},{"r":7,"i":12400,"hi":2.6,"lo":-2.4},{"r":7,"i":13200,"hi":2.9,"lo":-2.2},{"r":7,"i":14000,"hi":2.5,"lo":-2.5},{"r":7,"i":14510,"hi":2.7,"lo":-3.05},{"r":7,"i":15300,"hi":2.4,"lo":-2.4},{"r":7,"i":16000,"hi":3.35,"lo":-2.2},{"r":7,"i":16280,"hi":2.8,"lo":-3.2},{"r":7,"i":16900,"hi":3.3,"lo":-2.5},{"r":7,"i":17640,"hi":3.0,"lo":-3.2},{"r":7,"i":17850,"hi":3.65,"lo":-2.4},{"r":7,"i":18600,"hi":3.1,"lo":-2.6},{"r":7,"i":19400,"hi":2.9,"lo":-2.3},{"r":7,"i":20200,"hi":3.0,"lo":-2.5},{"r":7,"i":21220,"hi":3.35,"lo":-2.4},{"r":7,"i":22000,"hi":2.6,"lo":-2.3},{"r":7,"i":22800,"hi":2.5,"lo":-2.6},{"r":7,"i":23600,"hi":2.6,"lo":-2.4},{"r":7,"i":24400,"hi":2.4,"lo":-2.7},{"r":7,"i":25000,"hi":2.4,"lo":-2.3},{"r":7,"i":25730,"hi":2.3,"lo":-3.1},{"r":7,"i":26500,"hi":2.6,"lo":-2.4},{"r":7,"i":27300,"hi":2.8,"lo":-2.5},{"r":7,"i":28100,"hi":2.5,"lo":-2.3},{"r":7,"i":28900,"hi":2.7,"lo":-2.4},{"r":7,"i":29700,"hi":2.5,"lo":-2.6},{"r":7,"i":30590,"hi":2.6,"lo":-3.15},{"r":7,"i":31400,"hi":2.8,"lo":-2.4},{"r":7,"i":32200,"hi":2.6,"lo":-2.5},{"r":7,"i":33000,"hi":2.7,"lo":-2.3},{"r":7,"i":33800,"hi":2.6,"lo":-2.6},{"r":7,"i":34930,"hi":2.9,"lo":-3.35},{"r":7,"i":35700,"hi":2.6,"lo":-2.4},{"r":7,"i":36500,"hi":2.8,"lo":-3.3},{"r":7,"i":37300,"hi":2.5,"lo":-2.5},{"r":7,"i":38100,"hi":2.9,"lo":-2.4},{"r":7,"i":38900,"hi":2.7,"lo":-2.6},{"r":7,"i":39700,"hi":2.8,"lo":-2.3},{"r":7,"i":40500,"hi":2.6,"lo":-2.9},{"r":7,"i":41530,"hi":3.3,"lo":-2.5},{"r":7,"i":42300,"hi":2.8,"lo":-2.4},{"r":7,"i":43100,"hi":2.6,"lo":-2.6},{"r":7,"i":43900,"hi":3.0,"lo":-2.4},{"r":7,"i":44600,"hi":2.7,"lo":-2.5},{"r":7,"i":45350,"hi":2.6,"lo":-3.3},{"r":7,"i":46200,"hi":3.0,"lo":-2.4},{"r":7,"i":47000,"hi":2.8,"lo":-2.5},{"r":7,"i":47600,"hi":3.35,"lo":-3.25},{"r":7,"i":48500,"hi":2.7,"lo":-2.4},{"r":7,"i":49300,"hi":2.5,"lo":-2.6},{"r":7,"i":49950,"hi":2.5,"lo":-2.4}
]
},
"concat":[
 {"width":550,"height":128,"title":{"text":["school_effects_standard","0"]},"data":{"name":"kde"},"transform":[{"filter":"datum.r==0"}],"mark":{"type":"line","color":"#1f77b4","strokeWidth":1.4,"interpolate":"monotone"},"encoding":{"x":{"field":"x","type":"quantitative","scale":{"domain":[-3.78,5.38],"nice":false,"zero":false},"axis":{"values":[-2,0,2,4],"title":null}},"y":{"field":"d","type":"quantitative","scale":{"domain":[-0.05,1.05],"nice":false,"zero":false},"axis":null}}},
 {"width":550,"height":128,"title":{"text":["school_effects_standard","0"]},"data":{"name":"core"},"transform":[{"filter":"datum.r==0"}],"layer":[
  {"mark":{"type":"rect","color":"#d9e8f2"},"encoding":{"x":{"field":"a","type":"quantitative","scale":{"domain":[0,50000],"nice":false,"zero":false},"axis":{"values":[0,10000,20000,30000,40000],"format":"d","title":null}},"x2":{"field":"b"},"y":{"field":"flo","type":"quantitative","scale":{"domain":[-3.78,5.38],"nice":false,"zero":false},"axis":{"values":[-2.5,0,2.5,5],"format":".1f","title":null,"minExtent":36,"maxExtent":36}},"y2":{"field":"fhi"}}},
  {"mark":{"type":"rect","color":"#b1cfe5"},"encoding":{"x":{"field":"a","type":"quantitative","axis":{"title":null}},"x2":{"field":"b"},"y":{"field":"lo","type":"quantitative","axis":{"title":null}},"y2":{"field":"hi"}}},
  {"data":{"name":"trace"},"transform":[{"filter":"datum.r==0"}],"mark":{"type":"rule","color":"#b1cfe5","strokeWidth":1.6},"encoding":{"x":{"field":"i","type":"quantitative","axis":{"title":null}},"y":{"field":"lo","type":"quantitative","axis":{"title":null}},"y2":{"field":"hi"}}}
 ]},
 {"width":550,"height":128,"title":{"text":["school_effects_standard","1"]},"data":{"name":"kde"},"transform":[{"filter":"datum.r==1"}],"mark":{"type":"line","color":"#1f77b4","strokeWidth":1.4,"interpolate":"monotone"},"encoding":{"x":{"field":"x","type":"quantitative","scale":{"domain":[-3.44,4.07],"nice":false,"zero":false},"axis":{"values":[-3,-2,-1,0,1,2,3,4],"title":null}},"y":{"field":"d","type":"quantitative","scale":{"domain":[-0.05,1.05],"nice":false,"zero":false},"axis":null}}},
 {"width":550,"height":128,"title":{"text":["school_effects_standard","1"]},"data":{"name":"core"},"transform":[{"filter":"datum.r==1"}],"layer":[
  {"mark":{"type":"rect","color":"#d9e8f2"},"encoding":{"x":{"field":"a","type":"quantitative","scale":{"domain":[0,50000],"nice":false,"zero":false},"axis":{"values":[0,10000,20000,30000,40000],"format":"d","title":null}},"x2":{"field":"b"},"y":{"field":"flo","type":"quantitative","scale":{"domain":[-3.44,4.07],"nice":false,"zero":false},"axis":{"values":[-2,0,2,4],"format":"d","title":null,"minExtent":36,"maxExtent":36}},"y2":{"field":"fhi"}}},
  {"mark":{"type":"rect","color":"#b1cfe5"},"encoding":{"x":{"field":"a","type":"quantitative","axis":{"title":null}},"x2":{"field":"b"},"y":{"field":"lo","type":"quantitative","axis":{"title":null}},"y2":{"field":"hi"}}},
  {"data":{"name":"trace"},"transform":[{"filter":"datum.r==1"}],"mark":{"type":"rule","color":"#b1cfe5","strokeWidth":1.6},"encoding":{"x":{"field":"i","type":"quantitative","axis":{"title":null}},"y":{"field":"lo","type":"quantitative","axis":{"title":null}},"y2":{"field":"hi"}}}
 ]},
 {"width":550,"height":128,"title":{"text":["school_effects_standard","2"]},"data":{"name":"kde"},"transform":[{"filter":"datum.r==2"}],"mark":{"type":"line","color":"#1f77b4","strokeWidth":1.4,"interpolate":"monotone"},"encoding":{"x":{"field":"x","type":"quantitative","scale":{"domain":[-4.02,3.89],"nice":false,"zero":false},"axis":{"values":[-4,-3,-2,-1,0,1,2,3],"title":null}},"y":{"field":"d","type":"quantitative","scale":{"domain":[-0.05,1.05],"nice":false,"zero":false},"axis":null}}},
 {"width":550,"height":128,"title":{"text":["school_effects_standard","2"]},"data":{"name":"core"},"transform":[{"filter":"datum.r==2"}],"layer":[
  {"mark":{"type":"rect","color":"#d9e8f2"},"encoding":{"x":{"field":"a","type":"quantitative","scale":{"domain":[0,50000],"nice":false,"zero":false},"axis":{"values":[0,10000,20000,30000,40000],"format":"d","title":null}},"x2":{"field":"b"},"y":{"field":"flo","type":"quantitative","scale":{"domain":[-4.02,3.89],"nice":false,"zero":false},"axis":{"values":[-4,-2,0,2],"format":"d","title":null,"minExtent":36,"maxExtent":36}},"y2":{"field":"fhi"}}},
  {"mark":{"type":"rect","color":"#b1cfe5"},"encoding":{"x":{"field":"a","type":"quantitative","axis":{"title":null}},"x2":{"field":"b"},"y":{"field":"lo","type":"quantitative","axis":{"title":null}},"y2":{"field":"hi"}}},
  {"data":{"name":"trace"},"transform":[{"filter":"datum.r==2"}],"mark":{"type":"rule","color":"#b1cfe5","strokeWidth":1.6},"encoding":{"x":{"field":"i","type":"quantitative","axis":{"title":null}},"y":{"field":"lo","type":"quantitative","axis":{"title":null}},"y2":{"field":"hi"}}}
 ]},
 {"width":550,"height":128,"title":{"text":["school_effects_standard","3"]},"data":{"name":"kde"},"transform":[{"filter":"datum.r==3"}],"mark":{"type":"line","color":"#1f77b4","strokeWidth":1.4,"interpolate":"monotone"},"encoding":{"x":{"field":"x","type":"quantitative","scale":{"domain":[-4.23,3.91],"nice":false,"zero":false},"axis":{"values":[-4,-3,-2,-1,0,1,2,3],"title":null}},"y":{"field":"d","type":"quantitative","scale":{"domain":[-0.05,1.05],"nice":false,"zero":false},"axis":null}}},
 {"width":550,"height":128,"title":{"text":["school_effects_standard","3"]},"data":{"name":"core"},"transform":[{"filter":"datum.r==3"}],"layer":[
  {"mark":{"type":"rect","color":"#d9e8f2"},"encoding":{"x":{"field":"a","type":"quantitative","scale":{"domain":[0,50000],"nice":false,"zero":false},"axis":{"values":[0,10000,20000,30000,40000],"format":"d","title":null}},"x2":{"field":"b"},"y":{"field":"flo","type":"quantitative","scale":{"domain":[-4.23,3.91],"nice":false,"zero":false},"axis":{"values":[-2.5,0,2.5],"format":".1f","title":null,"minExtent":36,"maxExtent":36}},"y2":{"field":"fhi"}}},
  {"mark":{"type":"rect","color":"#b1cfe5"},"encoding":{"x":{"field":"a","type":"quantitative","axis":{"title":null}},"x2":{"field":"b"},"y":{"field":"lo","type":"quantitative","axis":{"title":null}},"y2":{"field":"hi"}}},
  {"data":{"name":"trace"},"transform":[{"filter":"datum.r==3"}],"mark":{"type":"rule","color":"#b1cfe5","strokeWidth":1.6},"encoding":{"x":{"field":"i","type":"quantitative","axis":{"title":null}},"y":{"field":"lo","type":"quantitative","axis":{"title":null}},"y2":{"field":"hi"}}}
 ]},
 {"width":550,"height":128,"title":{"text":["school_effects_standard","4"]},"data":{"name":"kde"},"transform":[{"filter":"datum.r==4"}],"mark":{"type":"line","color":"#1f77b4","strokeWidth":1.4,"interpolate":"monotone"},"encoding":{"x":{"field":"x","type":"quantitative","scale":{"domain":[-3.95,3.3],"nice":false,"zero":false},"axis":{"values":[-3,-2,-1,0,1,2,3],"title":null}},"y":{"field":"d","type":"quantitative","scale":{"domain":[-0.05,1.05],"nice":false,"zero":false},"axis":null}}},
 {"width":550,"height":128,"title":{"text":["school_effects_standard","4"]},"data":{"name":"core"},"transform":[{"filter":"datum.r==4"}],"layer":[
  {"mark":{"type":"rect","color":"#d9e8f2"},"encoding":{"x":{"field":"a","type":"quantitative","scale":{"domain":[0,50000],"nice":false,"zero":false},"axis":{"values":[0,10000,20000,30000,40000],"format":"d","title":null}},"x2":{"field":"b"},"y":{"field":"flo","type":"quantitative","scale":{"domain":[-3.95,3.3],"nice":false,"zero":false},"axis":{"values":[-2,0,2],"format":"d","title":null,"minExtent":36,"maxExtent":36}},"y2":{"field":"fhi"}}},
  {"mark":{"type":"rect","color":"#b1cfe5"},"encoding":{"x":{"field":"a","type":"quantitative","axis":{"title":null}},"x2":{"field":"b"},"y":{"field":"lo","type":"quantitative","axis":{"title":null}},"y2":{"field":"hi"}}},
  {"data":{"name":"trace"},"transform":[{"filter":"datum.r==4"}],"mark":{"type":"rule","color":"#b1cfe5","strokeWidth":1.6},"encoding":{"x":{"field":"i","type":"quantitative","axis":{"title":null}},"y":{"field":"lo","type":"quantitative","axis":{"title":null}},"y2":{"field":"hi"}}}
 ]},
 {"width":550,"height":128,"title":{"text":["school_effects_standard","5"]},"data":{"name":"kde"},"transform":[{"filter":"datum.r==5"}],"mark":{"type":"line","color":"#1f77b4","strokeWidth":1.4,"interpolate":"monotone"},"encoding":{"x":{"field":"x","type":"quantitative","scale":{"domain":[-3.87,3.25],"nice":false,"zero":false},"axis":{"values":[-3,-2,-1,0,1,2,3],"title":null}},"y":{"field":"d","type":"quantitative","scale":{"domain":[-0.05,1.05],"nice":false,"zero":false},"axis":null}}},
 {"width":550,"height":128,"title":{"text":["school_effects_standard","5"]},"data":{"name":"core"},"transform":[{"filter":"datum.r==5"}],"layer":[
  {"mark":{"type":"rect","color":"#d9e8f2"},"encoding":{"x":{"field":"a","type":"quantitative","scale":{"domain":[0,50000],"nice":false,"zero":false},"axis":{"values":[0,10000,20000,30000,40000],"format":"d","title":null}},"x2":{"field":"b"},"y":{"field":"flo","type":"quantitative","scale":{"domain":[-3.87,3.25],"nice":false,"zero":false},"axis":{"values":[-2,0,2],"format":"d","title":null,"minExtent":36,"maxExtent":36}},"y2":{"field":"fhi"}}},
  {"mark":{"type":"rect","color":"#b1cfe5"},"encoding":{"x":{"field":"a","type":"quantitative","axis":{"title":null}},"x2":{"field":"b"},"y":{"field":"lo","type":"quantitative","axis":{"title":null}},"y2":{"field":"hi"}}},
  {"data":{"name":"trace"},"transform":[{"filter":"datum.r==5"}],"mark":{"type":"rule","color":"#b1cfe5","strokeWidth":1.6},"encoding":{"x":{"field":"i","type":"quantitative","axis":{"title":null}},"y":{"field":"lo","type":"quantitative","axis":{"title":null}},"y2":{"field":"hi"}}}
 ]},
 {"width":550,"height":128,"title":{"text":["school_effects_standard","6"]},"data":{"name":"kde"},"transform":[{"filter":"datum.r==6"}],"mark":{"type":"line","color":"#1f77b4","strokeWidth":1.4,"interpolate":"monotone"},"encoding":{"x":{"field":"x","type":"quantitative","scale":{"domain":[-3.15,4.27],"nice":false,"zero":false},"axis":{"values":[-3,-2,-1,0,1,2,3,4],"title":null}},"y":{"field":"d","type":"quantitative","scale":{"domain":[-0.05,1.05],"nice":false,"zero":false},"axis":null}}},
 {"width":550,"height":128,"title":{"text":["school_effects_standard","6"]},"data":{"name":"core"},"transform":[{"filter":"datum.r==6"}],"layer":[
  {"mark":{"type":"rect","color":"#d9e8f2"},"encoding":{"x":{"field":"a","type":"quantitative","scale":{"domain":[0,50000],"nice":false,"zero":false},"axis":{"values":[0,10000,20000,30000,40000],"format":"d","title":null}},"x2":{"field":"b"},"y":{"field":"flo","type":"quantitative","scale":{"domain":[-3.15,4.27],"nice":false,"zero":false},"axis":{"values":[-2,0,2,4],"format":"d","title":null,"minExtent":36,"maxExtent":36}},"y2":{"field":"fhi"}}},
  {"mark":{"type":"rect","color":"#b1cfe5"},"encoding":{"x":{"field":"a","type":"quantitative","axis":{"title":null}},"x2":{"field":"b"},"y":{"field":"lo","type":"quantitative","axis":{"title":null}},"y2":{"field":"hi"}}},
  {"data":{"name":"trace"},"transform":[{"filter":"datum.r==6"}],"mark":{"type":"rule","color":"#b1cfe5","strokeWidth":1.6},"encoding":{"x":{"field":"i","type":"quantitative","axis":{"title":null}},"y":{"field":"lo","type":"quantitative","axis":{"title":null}},"y2":{"field":"hi"}}}
 ]},
 {"width":550,"height":128,"title":{"text":["school_effects_standard","7"]},"data":{"name":"kde"},"transform":[{"filter":"datum.r==7"}],"mark":{"type":"line","color":"#1f77b4","strokeWidth":1.4,"interpolate":"monotone"},"encoding":{"x":{"field":"x","type":"quantitative","scale":{"domain":[-3.67,4.0],"nice":false,"zero":false},"axis":{"values":[-3,-2,-1,0,1,2,3],"title":null}},"y":{"field":"d","type":"quantitative","scale":{"domain":[-0.05,1.05],"nice":false,"zero":false},"axis":null}}},
 {"width":550,"height":128,"title":{"text":["school_effects_standard","7"]},"data":{"name":"core"},"transform":[{"filter":"datum.r==7"}],"layer":[
  {"mark":{"type":"rect","color":"#d9e8f2"},"encoding":{"x":{"field":"a","type":"quantitative","scale":{"domain":[0,50000],"nice":false,"zero":false},"axis":{"values":[0,10000,20000,30000,40000],"format":"d","title":null}},"x2":{"field":"b"},"y":{"field":"flo","type":"quantitative","scale":{"domain":[-3.67,4.0],"nice":false,"zero":false},"axis":{"values":[-2,0,2],"format":"d","title":null,"minExtent":36,"maxExtent":36}},"y2":{"field":"fhi"}}},
  {"mark":{"type":"rect","color":"#b1cfe5"},"encoding":{"x":{"field":"a","type":"quantitative","axis":{"title":null}},"x2":{"field":"b"},"y":{"field":"lo","type":"quantitative","axis":{"title":null}},"y2":{"field":"hi"}}},
  {"data":{"name":"trace"},"transform":[{"filter":"datum.r==7"}],"mark":{"type":"rule","color":"#b1cfe5","strokeWidth":1.6},"encoding":{"x":{"field":"i","type":"quantitative","axis":{"title":null}},"y":{"field":"lo","type":"quantitative","axis":{"title":null}},"y2":{"field":"hi"}}}
 ]}
]
}
